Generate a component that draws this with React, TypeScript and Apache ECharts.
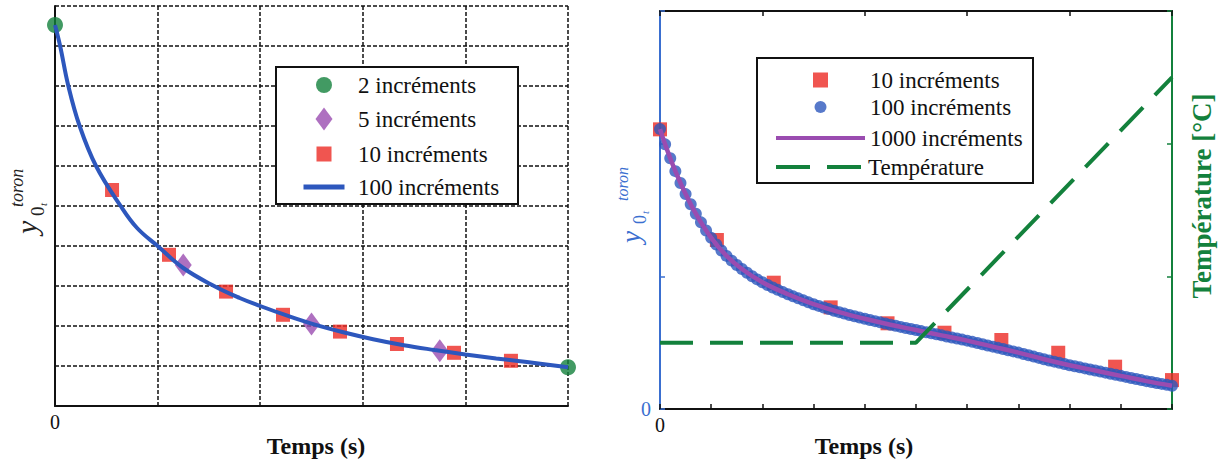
import React, { useEffect, useRef } from 'react';
import * as echarts from 'echarts';

const SERIF = 'Liberation Serif';

// ---------- Left chart data ----------
const leftT2 = [0, 5];
const leftY2 = [9.525, 0.97];
const leftT5 = [1.25, 2.5, 3.75];
const leftY5 = [3.525, 2.05, 1.38];
const leftT10 = [0.556, 1.111, 1.667, 2.222, 2.778, 3.333, 3.889, 4.444];
const leftY10 = [5.4, 3.78, 2.86, 2.28, 1.86, 1.55, 1.33, 1.13];
const leftT100 = [0, 0.05, 0.13, 0.24, 0.4, 0.64, 0.8, 1.0, 1.25, 1.55, 1.8, 2.0, 2.25, 2.5, 2.8, 3.1, 3.4, 3.7, 4.0, 4.3, 4.6, 5.0];
const leftY100 = [9.525, 9.0, 8.0, 7.0, 6.0, 5.0, 4.45, 4.0, 3.45, 3.0, 2.7, 2.5, 2.27, 2.06, 1.85, 1.67, 1.52, 1.4, 1.29, 1.19, 1.1, 0.97];

// ---------- Right chart data ----------
const rightT10 = [0, 1.111, 2.222, 3.333, 4.444, 5.556, 6.667, 7.778, 8.889, 10];
const rightY10 = [2.108, 1.274, 0.952, 0.766, 0.646, 0.575, 0.52, 0.424, 0.319, 0.218];
const rightY100 = [
  2.110, 1.995, 1.890, 1.793, 1.703, 1.620, 1.543, 1.472, 1.407, 1.346,
  1.290, 1.240, 1.195, 1.154, 1.118, 1.085, 1.055, 1.027, 1.001, 0.977,
  0.955, 0.935, 0.916, 0.898, 0.881, 0.865, 0.849, 0.834, 0.819, 0.804,
  0.790, 0.777, 0.765, 0.753, 0.741, 0.730, 0.719, 0.709, 0.699, 0.689,
  0.680, 0.671, 0.662, 0.653, 0.644, 0.635, 0.627, 0.619, 0.611, 0.603,
  0.595, 0.587, 0.579, 0.571, 0.563, 0.555, 0.547, 0.539, 0.531, 0.523,
  0.515, 0.506, 0.497, 0.488, 0.479, 0.470, 0.461, 0.452, 0.443, 0.434,
  0.425, 0.415, 0.405, 0.395, 0.385, 0.375, 0.366, 0.357, 0.348, 0.339,
  0.330, 0.322, 0.314, 0.306, 0.298, 0.290, 0.282, 0.274, 0.266, 0.258,
  0.250, 0.242, 0.234, 0.226, 0.218, 0.210, 0.203, 0.196, 0.189, 0.182,
  0.175,
];
const rightT1000 = [0, 0.1, 0.2, 0.3, 0.5, 0.7, 1, 1.3, 1.6, 2, 2.5, 3, 3.5, 4, 4.5, 5, 5.5, 6, 6.5, 7, 7.5, 8, 8.5, 9, 9.5, 10];
const rightY1000 = [2.11, 1.995, 1.89, 1.793, 1.62, 1.472, 1.29, 1.154, 1.055, 0.955, 0.865, 0.79, 0.73, 0.68, 0.635, 0.595, 0.555, 0.515, 0.47, 0.425, 0.375, 0.33, 0.29, 0.25, 0.21, 0.175];
const tempT = [0, 5, 10];
const tempV = [50, 50, 250];

const zip = (xs: number[], ys: number[]) => xs.map((x, i) => [x, ys[i]]);

const RED = '#ec2b24';
const GREEN = '#13813c';
const PURPLE = '#9a4cb0';
const BLUE = '#2d57bd';
const AXBLUE = '#3a6fd0';

const ICON_SQUARE = 'path://M0,0L10,0L10,10L0,10Z';
const ICON_CIRCLE = 'path://M10,5A5,5,0,1,1,0,5A5,5,0,1,1,10,5Z';
const ICON_DIAMOND = 'path://M8.5,0L17,11.5L8.5,23L0,11.5Z';
const ICON_LINE_L = 'path://M0,0L41,0L41,5L0,5Z';
const ICON_LINE_R = 'path://M0,0L89,0L89,4L0,4Z';
const ICON_DASH_R = 'path://M0,0L34,0L34,4L0,4ZM51,0L85,0L85,4L51,4Z';

const LEG_FS = 23;

// centerX: centre of the icon; iconW: rendered icon width (keep-aspect icons shrink the item box)
function oneLegend(name: string, centerX: number, centerY: number, itemWidth: number, itemHeight: number, iconW: number, padLeft: number, icon: string) {
  const ts = { fontFamily: SERIF, fontSize: LEG_FS, color: '#111', padding: [0, 0, 0, padLeft] };
  return {
    left: centerX - iconW / 2,
    top: centerY - Math.max(itemHeight, LEG_FS) / 2,
    padding: 0,
    itemWidth,
    itemHeight,
    selectedMode: false,
    symbolKeepAspect: true,
    formatter: (n: string) => n.replace(/^R:/, ''),
    data: [{ name, icon, textStyle: ts }],
    textStyle: ts,
  };
}

function yLabel(ox: number, oy: number, color: string, s: number[]) {
  const [ys, zs, ts, rs, zx, tx, rx, zb, tb, rb] = s;
  const mk = (text: string, x: number, base: number, size: number, italic: boolean) => ({
    type: 'text',
    x,
    y: base - 0.34 * size,
    style: {
      text,
      font: `${italic ? 'italic ' : ''}${size}px ${SERIF}`,
      fill: color,
      align: 'left',
      verticalAlign: 'middle',
      textAlign: 'left',
      textVerticalAlign: 'middle',
    },
  });
  return {
    type: 'group',
    x: ox,
    y: oy,
    rotation: Math.PI / 2,
    children: [
      mk('y', 0, 0, ys, true),
      mk('0', zx, zb, zs, false),
      mk('t', tx, tb, ts, true),
      mk('toron', rx, rb, rs, true),
    ],
  };
}

function centerText(text: string, x: number, y: number, font: string, fill: string, rotation = 0) {
  return {
    type: 'text',
    x,
    y,
    rotation,
    style: {
      text,
      font,
      fill,
      align: 'center',
      verticalAlign: 'middle',
      textAlign: 'center',
      textVerticalAlign: 'middle',
    },
  };
}

export default function App() {
  const ref = useRef<HTMLDivElement>(null);

  useEffect(() => {
    const chart = echarts.init(ref.current!, null, { renderer: 'svg' });
    const dashedGrid = { show: true, lineStyle: { color: '#111', type: [4, 2], width: 1.5 } };
    const zeroOnly = (v: number) => (v === 0 ? '0' : '');
    const line = (color: string) => ({ show: true, onZero: false, lineStyle: { color, width: 2 } });

    const option: any = {
      animation: false,
      backgroundColor: '#fff',
      textStyle: { fontFamily: SERIF },
      grid: [
        { left: 55, top: 6, width: 513, height: 400 },
        { left: 660, top: 11, width: 512, height: 398 },
      ],
      xAxis: [
        {
          gridIndex: 0, type: 'value', min: 0, max: 5, interval: 1,
          axisLine: line('#111'),
          axisTick: { show: false },
          axisLabel: { formatter: zeroOnly, fontFamily: SERIF, fontSize: 20, color: '#111', margin: 6 },
          splitLine: dashedGrid,
        },
        {
          gridIndex: 1, type: 'value', min: 0, max: 10, interval: 1, position: 'bottom',
          axisLine: line('#111'),
          axisTick: { show: true, inside: true, length: 5, lineStyle: { color: '#111', width: 1.5 } },
          axisLabel: { formatter: zeroOnly, fontFamily: SERIF, fontSize: 20, color: '#111', margin: 6 },
          splitLine: { show: false },
        },
        {
          gridIndex: 1, type: 'value', min: 0, max: 10, interval: 2, position: 'top',
          axisLine: line('#111'),
          axisTick: { show: true, inside: true, length: 5, lineStyle: { color: '#111', width: 1.5 } },
          axisLabel: { show: false },
          splitLine: { show: false },
        },
      ],
      yAxis: [
        {
          gridIndex: 0, type: 'value', min: 0, max: 10, interval: 1,
          axisLine: line('#111'),
          axisTick: { show: false },
          axisLabel: { show: false },
          splitLine: dashedGrid,
        },
        {
          gridIndex: 1, type: 'value', min: 0, max: 3, interval: 1, position: 'left',
          axisLine: line(AXBLUE),
          axisTick: { show: true, inside: true, length: 5, lineStyle: { color: AXBLUE, width: 1.5 } },
          axisLabel: { formatter: zeroOnly, fontFamily: SERIF, fontSize: 20, color: AXBLUE, margin: 9 },
          splitLine: { show: false },
        },
        {
          gridIndex: 1, type: 'value', min: 0, max: 300, interval: 100, position: 'right',
          axisLine: line(GREEN),
          axisTick: { show: true, inside: true, length: 5, lineStyle: { color: GREEN, width: 1.5 } },
          axisLabel: { show: false },
          splitLine: { show: false },
        },
      ],
      legend: [
        oneLegend('2 incréments', 324, 85, 41, 16, 16, 8.5, ICON_CIRCLE),
        oneLegend('5 incréments', 324, 119, 41, 23, 17, 8.5, ICON_DIAMOND),
        oneLegend('10 incréments', 324, 154, 41, 15, 15, 8.5, ICON_SQUARE),
        oneLegend('100 incréments', 324, 187, 41, 5, 41, 8.5, ICON_LINE_L),
        oneLegend('R:10 incréments', 820.5, 80, 89, 15, 15, 0, ICON_SQUARE),
        oneLegend('R:100 incréments', 820.5, 107, 89, 12, 12, 0, ICON_CIRCLE),
        oneLegend('R:1000 incréments', 820.5, 138, 89, 4, 89, 0, ICON_LINE_R),
        oneLegend('Température', 820.5, 167, 89, 4, 89, 0, ICON_DASH_R),
      ],
      graphic: [
        { type: 'rect', z: 3, shape: { x: 276, y: 67, width: 242, height: 137 }, style: { fill: '#fff', stroke: '#111', lineWidth: 2 } },
        { type: 'rect', z: 3, shape: { x: 757, y: 58, width: 276, height: 125 }, style: { fill: '#fff', stroke: '#111', lineWidth: 2 } },
        yLabel(37, 234, '#222', [30, 19, 11, 18, 18, 28, 27, 7, 10, -14]),
        yLabel(640, 243, AXBLUE, [27, 18, 11, 16, 19, 29, 42, 6, 9, -12]),
        centerText('Temps (s)', 316, 446, `bold 24px ${SERIF}`, '#111'),
        centerText('Temps (s)', 864, 446, `bold 24px ${SERIF}`, '#111'),
        centerText('Température [°C]', 1202, 196, `bold 27px ${SERIF}`, GREEN, Math.PI / 2),
      ],
      series: [
        {
          name: '10 incréments', type: 'scatter', xAxisIndex: 0, yAxisIndex: 0,
          symbol: 'rect', symbolSize: 14, itemStyle: { color: RED },
          data: zip(leftT10, leftY10),
        },
        {
          name: '5 incréments', type: 'scatter', xAxisIndex: 0, yAxisIndex: 0,
          symbol: 'diamond', symbolSize: [17, 23], itemStyle: { color: PURPLE },
          data: zip(leftT5, leftY5),
        },
        {
          name: '100 incréments', type: 'line', xAxisIndex: 0, yAxisIndex: 0,
          symbol: 'none', smooth: 0.4,
          lineStyle: { color: BLUE, width: 4 }, itemStyle: { color: BLUE },
          data: zip(leftT100, leftY100),
        },
        {
          name: '2 incréments', type: 'scatter', xAxisIndex: 0, yAxisIndex: 0,
          symbol: 'circle', symbolSize: 16, itemStyle: { color: GREEN },
          data: zip(leftT2, leftY2),
        },
        {
          name: 'R:10 incréments', type: 'scatter', xAxisIndex: 1, yAxisIndex: 1,
          symbol: 'rect', symbolSize: 14, itemStyle: { color: RED },
          data: zip(rightT10, rightY10),
        },
        {
          name: 'R:100 incréments', type: 'scatter', xAxisIndex: 1, yAxisIndex: 1,
          symbol: 'circle', symbolSize: 12, itemStyle: { color: BLUE },
          data: rightY100.map((v, i) => [i / 10, v]),
        },
        {
          name: 'R:1000 incréments', type: 'line', xAxisIndex: 1, yAxisIndex: 1,
          symbol: 'none', smooth: 0.4,
          lineStyle: { color: PURPLE, width: 4.5 }, itemStyle: { color: PURPLE },
          data: zip(rightT1000, rightY1000),
        },
        {
          name: 'Température', type: 'line', xAxisIndex: 1, yAxisIndex: 2,
          symbol: 'none',
          lineStyle: { color: GREEN, width: 4, type: [33, 17] }, itemStyle: { color: GREEN },
          data: zip(tempT, tempV),
        },
      ],
    };
    chart.setOption(option);
    return () => chart.dispose();
  }, []);

  return (
    <div
      ref={ref}
      style={{ position: 'absolute', left: 0, top: 0, width: 1221, height: 466, background: '#fff' }}
    />
  );
}
